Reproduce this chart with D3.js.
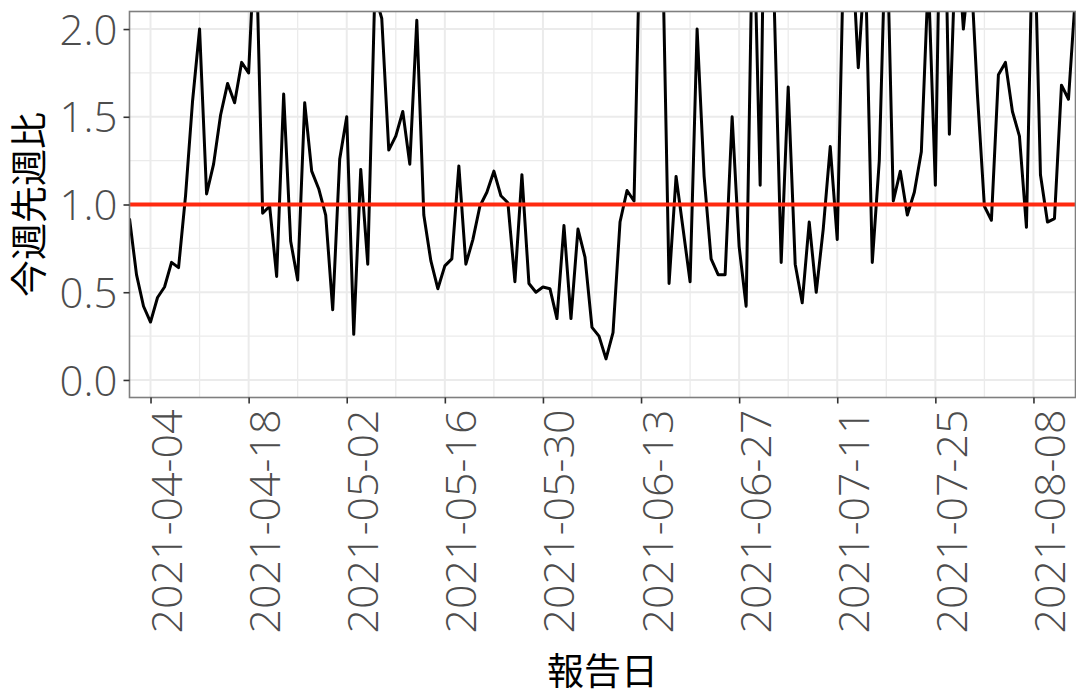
<!DOCTYPE html>
<html>
<head>
<meta charset="utf-8">
<script src="https://cdn.jsdelivr.net/npm/d3@7"></script>
<style>
  body { margin: 0; background: #fff; }
  svg text { font-family: "Noto Sans CJK JP", "Noto Sans", sans-serif; }
  svg .tick text { font-family: "Open Sans", "Liberation Sans", sans-serif; font-weight: 300; }
</style>
</head>
<body>
<div id="chart"></div>
<script>
// daily week-over-week ratio, first and last report day
const startDate = "2021-04-01";
const endDate = "2021-08-14";

// one value per report day (values above 2.1 get clipped by the panel)
const ratio = [
  0.92, 0.60, 0.42, 0.33, 0.47, 0.53, 0.67, 0.64, 1.05, 1.59,
  2.00, 1.06, 1.23, 1.51, 1.69, 1.58, 1.81, 1.75, 2.60, 0.95,
  0.99, 0.59, 1.63, 0.79, 0.57, 1.58, 1.19, 1.09, 0.94, 0.40,
  1.26, 1.50, 0.26, 1.20, 0.66, 2.20, 2.06, 1.31, 1.39, 1.53,
  1.23, 2.05, 0.94, 0.68, 0.52, 0.65, 0.69, 1.22, 0.66, 0.80,
  0.99, 1.07, 1.19, 1.05, 1.01, 0.56, 1.17, 0.55, 0.50, 0.53,
  0.52, 0.35, 0.88, 0.35, 0.86, 0.70, 0.30, 0.25, 0.12, 0.27,
  0.90, 1.08, 1.02, 2.80, 3.00, 3.20, 2.60, 0.55, 1.16, 0.86,
  0.56, 2.00, 1.16, 0.69, 0.60, 0.60, 1.50, 0.76, 0.42, 2.80,
  1.11, 4.00, 2.15, 0.67, 1.67, 0.66, 0.44, 0.90, 0.50, 0.86,
  1.33, 0.80, 2.60, 2.55, 1.78, 2.40, 0.67, 1.25, 2.70, 1.02,
  1.19, 0.94, 1.07, 1.30, 2.30, 1.11, 3.50, 1.40, 2.60, 2.00,
  2.40, 1.63, 0.99, 0.91, 1.74, 1.81, 1.53, 1.39, 0.87, 2.80,
  1.17, 0.90, 0.92, 1.68, 1.60, 2.20
];

// axis ticks and labels
const dateTicks = ["2021-04-04", "2021-04-18", "2021-05-02", "2021-05-16", "2021-05-30",
  "2021-06-13", "2021-06-27", "2021-07-11", "2021-07-25", "2021-08-08"];
const yTicks = [0, 0.5, 1.0, 1.5, 2.0];
const yMinorTicks = [0.25, 0.75, 1.25, 1.75];
const refValue = 1;
const xTitle = "報告日";
const yTitle = "今週先週比";

//Dimensions of the page and the plotting panel
const width = 1076,
  height = 692;
const panel = { left: 129.5, right: 1075.5, top: 11.5, bottom: 397.5 };

const parse = d3.utcParse("%Y-%m-%d");
const days = d3.utcDay.range(parse(startDate), d3.utcDay.offset(parse(endDate), 1));
const data = days.map((d, i) => ({ date: d, value: ratio[i] }));

const x = d3.scaleUtc()
  .domain([parse(startDate), parse(endDate)])
  .range([panel.left, panel.right]);

const y = d3.scaleLinear()
  .domain([-0.1, 2.1])
  .range([panel.bottom, panel.top]);

const svg = d3.select("#chart")
  .append("svg")
  .attr("width", width)
  .attr("height", height);

svg.append("defs").append("clipPath")
  .attr("id", "clip")
  .append("rect")
  .attr("x", panel.left)
  .attr("y", panel.top)
  .attr("width", panel.right - panel.left)
  .attr("height", panel.bottom - panel.top);

//Grid lines, minor first then major, same as ggplot's theme_bw
const majorX = dateTicks.map(parse);
const minorX = majorX.map(d => d3.utcDay.offset(d, 7)).filter(d => d <= x.domain()[1]);
const grid = svg.append("g");

grid.selectAll(".minor-x")
  .data(minorX)
  .join("line")
  .attr("x1", d => x(d)).attr("x2", d => x(d))
  .attr("y1", panel.top).attr("y2", panel.bottom)
  .attr("stroke", "#ebebeb").attr("stroke-width", 1.3);

grid.selectAll(".minor-y")
  .data(yMinorTicks)
  .join("line")
  .attr("x1", panel.left).attr("x2", panel.right)
  .attr("y1", d => y(d)).attr("y2", d => y(d))
  .attr("stroke", "#ebebeb").attr("stroke-width", 1.3);

grid.selectAll(".major-x")
  .data(majorX)
  .join("line")
  .attr("x1", d => x(d)).attr("x2", d => x(d))
  .attr("y1", panel.top).attr("y2", panel.bottom)
  .attr("stroke", "#ebebeb").attr("stroke-width", 2);

grid.selectAll(".major-y")
  .data(yTicks)
  .join("line")
  .attr("x1", panel.left).attr("x2", panel.right)
  .attr("y1", d => y(d)).attr("y2", d => y(d))
  .attr("stroke", "#ebebeb").attr("stroke-width", 2);

//The ratio line, clipped to the panel
const line = d3.line()
  .x(d => x(d.date))
  .y(d => y(d.value));

svg.append("path")
  .datum(data)
  .attr("clip-path", "url(#clip)")
  .attr("d", line)
  .attr("fill", "none")
  .attr("stroke", "#000")
  .attr("stroke-width", 3)
  .attr("stroke-linejoin", "round");

//Red reference line at 1.0
svg.append("line")
  .attr("x1", panel.left).attr("x2", panel.right)
  .attr("y1", y(refValue)).attr("y2", y(refValue))
  .attr("stroke", "#ff2a10")
  .attr("stroke-width", 4.2);

//Panel border
svg.append("rect")
  .attr("x", panel.left).attr("y", panel.top)
  .attr("width", panel.right - panel.left)
  .attr("height", panel.bottom - panel.top)
  .attr("fill", "none")
  .attr("stroke", "#7f7f7f")
  .attr("stroke-width", 1.6);

//Axes: ticks drawn by d3, labels restyled afterwards
const yAxis = svg.append("g")
  .attr("transform", `translate(${panel.left},0)`)
  .call(d3.axisLeft(y).tickValues(yTicks).tickFormat(d3.format(".1f")).tickSizeOuter(0).tickSize(6).tickPadding(6));

yAxis.select(".domain").remove();
yAxis.selectAll(".tick line").attr("stroke", "#333").attr("stroke-width", 1.6);
yAxis.selectAll(".tick text")
  .attr("fill", "#4d4d4d")
  .attr("font-size", 42)
  .attr("dy", "0.36em");

const xAxis = svg.append("g")
  .attr("transform", `translate(0,${panel.bottom})`)
  .call(d3.axisBottom(x).tickValues(majorX).tickFormat(d3.utcFormat("%Y-%m-%d")).tickSizeOuter(0).tickSize(6));

xAxis.select(".domain").remove();
xAxis.selectAll(".tick line").attr("stroke", "#333").attr("stroke-width", 1.6);
xAxis.selectAll(".tick text")
  .attr("fill", "#4d4d4d")
  .attr("font-size", 43)
  .attr("text-anchor", "end")
  .attr("dy", null)
  .attr("y", null)
  .attr("transform", "translate(31,12) rotate(-90)");

//Axis titles
svg.append("text")
  .attr("x", (panel.left + panel.right) / 2)
  .attr("y", 685)
  .attr("text-anchor", "middle")
  .attr("font-size", 37)
  .attr("fill", "#000")
  .text(xTitle);

svg.append("text")
  .attr("transform", `translate(43,${(panel.top + panel.bottom) / 2}) rotate(-90)`)
  .attr("text-anchor", "middle")
  .attr("font-size", 37)
  .attr("fill", "#000")
  .text(yTitle);
</script>
</body>
</html>
